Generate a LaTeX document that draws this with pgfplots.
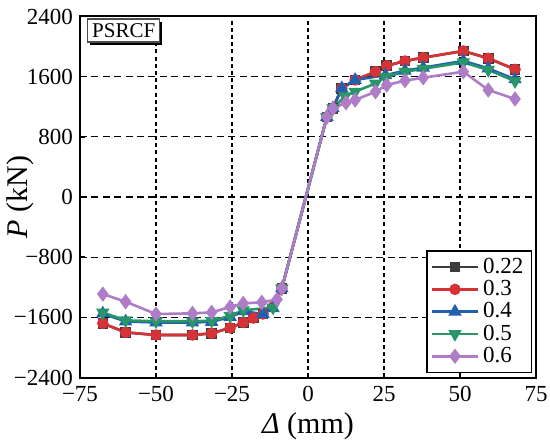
\documentclass[border=0pt]{standalone}
\usepackage{pgfplots}
\pgfplotsset{compat=1.18}
\usepackage{fontspec}
\setmainfont{Liberation Serif}
\usetikzlibrary{shadows}
\definecolor{cblack}{RGB}{60,60,60}
\definecolor{cred}{RGB}{215,50,55}
\definecolor{cblue}{RGB}{35,95,175}
\definecolor{cgreen}{RGB}{40,150,105}
\definecolor{cpurple}{RGB}{175,125,200}
\begin{document}
\begin{tikzpicture}
\begin{axis}[
  name=ax,
  scale only axis,
  width=228pt, height=180.5pt,
  xmin=-75, xmax=75, ymin=-2400, ymax=2400,
  xtick={-75,-50,-25,0,25,50,75},
  xticklabels={−75,−50,−25,0,25,50,75},
  ytick={-2400,-1600,-800,0,800,1600,2400},
  yticklabels={−2400,−1600,−800,0,800,1600,2400},
  tick align=inside, tick pos=left,
  major tick length=2.5pt,
  axis line style={line width=1pt},
  every tick/.style={line width=0.8pt, black},
  grid=major,
  major x grid style={black, line width=0.65pt, dash pattern=on 2pt off 1.6pt},
  major y grid style={black, line width=0.65pt, dash pattern=on 3.5pt off 2.2pt},
  tick label style={font=\fontsize{11.5}{12}\selectfont},
  xticklabel style={yshift=-1pt},
  xlabel={\textit{Δ} (mm)},
  ylabel={\textit{P} (kN)},
  label style={font=\fontsize{15}{16}\selectfont},
  xlabel style={at={([yshift=-24.6pt]rel axis cs:0.5,0)}, anchor=center},
  ylabel style={at={([xshift=-30pt]rel axis cs:0,0.5)}, anchor=center},
  legend cell align=left,
  legend style={at={(0.991,0.0125)}, anchor=south east, draw=black, line width=0.6pt,
    font=\fontsize{11.5}{12}\selectfont, row sep=-2pt, inner xsep=2pt, inner ysep=1.5pt},
  legend image code/.code={\draw[mark repeat=2,mark phase=2] plot coordinates {(0cm,0cm) (0.4cm,0cm) (0.8cm,0cm)};},
  every axis plot/.append style={line width=1.3pt, mark size=2.2pt},
]
% 0.22
\addplot[cblack, mark=square*, mark size=2pt] coordinates {
(-67.5,-1680) (-60,-1800) (-50,-1835) (-38,-1835) (-31.7,-1813) (-25.6,-1740) (-21.3,-1668) (-18,-1610) (-14.8,-1555) (-8.6,-1214)
(6.2,1065) (8.2,1180) (11.1,1446) (15.5,1556) (22.2,1666) (25.9,1745) (31.9,1808) (37.9,1853) (51.1,1941) (59.3,1844) (68.1,1697)};
\addlegendentry{0.22}
% 0.3
\addplot[cred, mark=*] coordinates {
(-67.5,-1680) (-60,-1800) (-50,-1835) (-38,-1835) (-31.7,-1813) (-25.6,-1740) (-21.3,-1668) (-18,-1610) (-14.8,-1555) (-8.6,-1214)
(6.2,1065) (8.2,1180) (11.1,1446) (15.5,1556) (22.2,1666) (25.9,1745) (31.9,1808) (37.9,1853) (51.1,1941) (59.3,1844) (68.1,1697)};
\addlegendentry{0.3}
% 0.4
\addplot[cblue, mark=triangle*, mark size=2.6pt] coordinates {
(-67.5,-1550) (-60,-1655) (-50,-1668) (-38,-1668) (-31.7,-1660) (-25.6,-1595) (-21.3,-1520) (-14.8,-1555) (-11.5,-1480) (-8.6,-1214)
(6.2,1065) (8.2,1180) (11.1,1446) (15.5,1556) (25.5,1620) (31.9,1680) (37.9,1720) (51.1,1810) (59.3,1710) (68.1,1565)};
\addlegendentry{0.4}
% 0.5
\addplot[cgreen, mark=triangle*, mark options={rotate=180}, mark size=2.6pt] coordinates {
(-67.5,-1535) (-60,-1640) (-50,-1652) (-38,-1652) (-31.7,-1645) (-25.6,-1580) (-21.3,-1505) (-11.5,-1470) (-8.6,-1214)
(6.2,1065) (8.2,1180) (12.2,1340) (15.5,1400) (22.2,1510) (25.5,1595) (31.9,1665) (37.9,1705) (51.1,1790) (59.3,1690) (68.1,1540)};
\addlegendentry{0.5}
% 0.6
\addplot[cpurple, mark=diamond*, mark size=2.8pt] coordinates {
(-67.5,-1290) (-60,-1392) (-50,-1556) (-38,-1547) (-31.7,-1534) (-25.6,-1462) (-21.3,-1414) (-15.2,-1400) (-10.2,-1362) (-8.6,-1214)
(6.2,1065) (8.2,1180) (12.5,1254) (15.5,1290) (22.2,1400) (25.9,1489) (31.9,1547) (37.9,1586) (51.1,1666) (59.3,1423) (68.1,1303)};
\addlegendentry{0.6}
\node[draw=gray!60!black, line width=0.6pt, fill=white, anchor=north west, inner sep=2.2pt,
  font=\fontsize{10.5}{11}\selectfont,
  drop shadow={shadow xshift=1.3pt, shadow yshift=-1.3pt, fill=black, opacity=1}]
  at ([xshift=3.6pt,yshift=-1pt]rel axis cs:0,1) {PSRCF};
\end{axis}
\pgfresetboundingbox
\path (ax.south west) ++(-40pt,-33.25pt) rectangle ([xshift=7pt,yshift=8.25pt]ax.north east);
\end{tikzpicture}
\end{document}
